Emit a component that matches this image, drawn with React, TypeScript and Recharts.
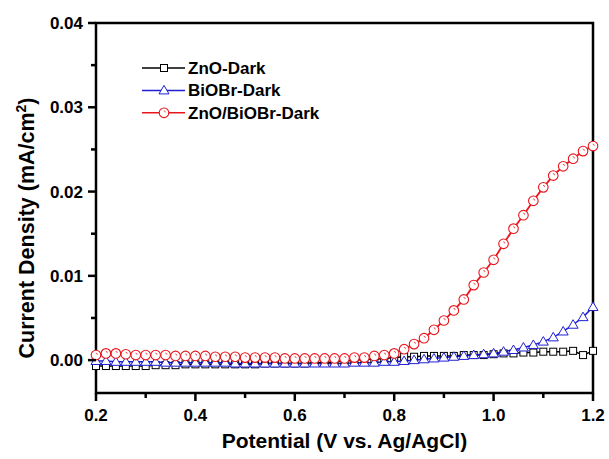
import React from "react";
import { LineChart, Line, XAxis, YAxis, Legend, Label, ReferenceArea } from "recharts";

// Potential (V vs. Ag/AgCl) of each sample point
const potential = [
  0.2, 0.22, 0.24, 0.26, 0.28, 0.3, 0.32, 0.34, 0.36, 0.38,
  0.4, 0.42, 0.44, 0.46, 0.48, 0.5, 0.52, 0.54, 0.56, 0.58,
  0.6, 0.62, 0.64, 0.66, 0.68, 0.7, 0.72, 0.74, 0.76, 0.78,
  0.8, 0.82, 0.84, 0.86, 0.88, 0.9, 0.92, 0.94, 0.96, 0.98,
  1.0, 1.02, 1.04, 1.06, 1.08, 1.1, 1.12, 1.14, 1.16, 1.18,
  1.2,
];

// Current density (mA/cm2) per series
const znoDark = [
  -0.0007, -0.0007, -0.0007, -0.0007, -0.0007, -0.0007, -0.0006, -0.0006, -0.0006, -0.0005,
  -0.0005, -0.0005, -0.0005, -0.0005, -0.0005, -0.0005, -0.0005, -0.0004, -0.0004, -0.0004,
  -0.0004, -0.0004, -0.0003, -0.0003, -0.0002, -0.0001, 0.0, 0.0001, 0.0001, 0.0002,
  0.0003, 0.0004, 0.0004, 0.0005, 0.0005, 0.0005, 0.0005, 0.0006, 0.0006, 0.0006,
  0.0007, 0.0008, 0.0008, 0.0009, 0.0009, 0.001, 0.001, 0.001, 0.0011, 0.0006,
  0.0011,
];

const biobrDark = [
  -0.0001, -0.0001, -0.0002, -0.0002, -0.0002, -0.0002, -0.0002, -0.0003, -0.0003, -0.0003,
  -0.0003, -0.0003, -0.0003, -0.0003, -0.0004, -0.0004, -0.0004, -0.0004, -0.0004, -0.0004,
  -0.0004, -0.0004, -0.0004, -0.0004, -0.0004, -0.0004, -0.0003, -0.0003, -0.0003, -0.0002,
  -0.0002, -0.0001, 0.0, 0.0001, 0.0002, 0.0003, 0.0004, 0.0005, 0.0006, 0.0007,
  0.0008, 0.001, 0.0012, 0.0015, 0.0018, 0.0022, 0.0027, 0.0034, 0.0042, 0.0051,
  0.0063,
];

const znoBiobrDark = [
  0.0006, 0.0008, 0.0008, 0.0007, 0.0006, 0.0006, 0.0006, 0.0006, 0.0005, 0.0005,
  0.0005, 0.0005, 0.0004, 0.0004, 0.0004, 0.0003, 0.0003, 0.0003, 0.0003, 0.0002,
  0.0002, 0.0002, 0.0002, 0.0002, 0.0002, 0.0002, 0.0003, 0.0003, 0.0005, 0.0006,
  0.0008, 0.0013, 0.0019, 0.0026, 0.0036, 0.0047, 0.0059, 0.0072, 0.0089, 0.0104,
  0.0119, 0.0138, 0.0156, 0.0172, 0.0189, 0.0205, 0.0219, 0.023, 0.0239, 0.0248,
  0.0254,
];

const xTicks = [0.2, 0.3, 0.4, 0.5, 0.6, 0.7, 0.8, 0.9, 1.0, 1.1, 1.2];
const yTicks = [0, 0.005, 0.01, 0.015, 0.02, 0.025, 0.03, 0.035, 0.04];

const seriesNames = ["ZnO-Dark", "BiOBr-Dark", "ZnO/BiOBr-Dark"];

const data = potential.map((v, i) => ({
  v,
  zno: znoDark[i],
  biobr: biobrDark[i],
  both: znoBiobrDark[i],
}));

const X_DOMAIN: [number, number] = [0.2, 1.2];
const Y_DOMAIN: [number, number] = [-0.0039, 0.04];

const FONT = '"Liberation Sans", Arial, sans-serif';
const BLACK = "#000000";
const BLUE = "#1f1fd6";
const RED = "#e8161c";
const AXIS_W = 2.5;

const squareMark = (cx: number, cy: number, key?: string) => (
  <rect key={key} x={cx - 3.5} y={cy - 3.5} width={7} height={7} fill="#fff" stroke={BLACK} strokeWidth={1} />
);

const triangleMark = (cx: number, cy: number, key?: string) => (
  <path
    key={key}
    d={`M${cx},${cy - 5} L${cx + 5},${cy + 3.5} L${cx - 5},${cy + 3.5} Z`}
    fill="#fff"
    stroke={BLUE}
    strokeWidth={1}
  />
);

const circleMark = (cx: number, cy: number, key?: string) => (
  <g key={key}>
    <circle cx={cx} cy={cy} r={4.8} fill="#fff" stroke={RED} strokeWidth={1.1} />
    <path d={`M${cx - 0.3},${cy - 2} a1.5,1.5 0 0 1 1.6,1.7`} fill="none" stroke={RED} strokeWidth={0.7} />
  </g>
);

const marks = [squareMark, triangleMark, circleMark];
const colors = [BLACK, BLUE, RED];

const makeDot = (fn: typeof squareMark) => (props: any) => {
  const { cx, cy, index } = props;
  if (cx == null || cy == null) return <g key={`e-${index}`} />;
  return fn(cx, cy, `d-${index}`);
};

// Y ticks: major with label, minor half-way ticks without
const YTick = (props: any) => {
  const { x, y, payload } = props;
  const axisX = x + 13;
  const major = Math.round(payload.value * 1000) % 10 === 0;
  return (
    <g>
      <path d={`M${axisX - (major ? 8 : 5)},${y}H${axisX}`} stroke={BLACK} strokeWidth={AXIS_W} fill="none" />
      {major && (
        <text x={axisX - 13} y={y} dy={6} textAnchor="end" fontFamily={FONT} fontWeight="bold" fontSize={17} fill={BLACK}>
          {payload.value.toFixed(2)}
        </text>
      )}
    </g>
  );
};

const XTick = (props: any) => {
  const { x, y, payload } = props;
  const axisY = y - 16;
  const major = Math.round(payload.value * 10) % 2 === 0;
  return (
    <g>
      <path d={`M${x},${axisY}V${axisY + (major ? 8 : 5)}`} stroke={BLACK} strokeWidth={AXIS_W} fill="none" />
      {major && (
        <text x={x} y={axisY + 28} textAnchor="middle" fontFamily={FONT} fontWeight="bold" fontSize={17} fill={BLACK}>
          {payload.value.toFixed(1)}
        </text>
      )}
    </g>
  );
};

const renderLegend = () => (
  <svg width={220} height={70}>
    {seriesNames.map((name, i) => {
      const cy = 12 + i * 22.4;
      return (
        <g key={name}>
          <line x1={2} x2={45} y1={cy} y2={cy} stroke={colors[i]} strokeWidth={1.5} />
          {marks[i](24, cy)}
          <text x={48} y={cy} dy={6} fontFamily={FONT} fontWeight="bold" fontSize={17} fill={BLACK}>
            {name}
          </text>
        </g>
      );
    })}
  </svg>
);

export default function App() {
  return (
    <div style={{ position: "absolute", left: 0, top: 0, width: 609, height: 459, background: "#fff" }}>
      <LineChart width={609} height={459} data={data} margin={{ top: 23, right: 16, bottom: 0, left: 0 }}>
        <XAxis
          dataKey="v"
          type="number"
          domain={X_DOMAIN}
          ticks={xTicks}
          interval={0}
          tickSize={8}
          tickMargin={8}
          tickLine={false}
          tick={<XTick />}
          axisLine={false}
          height={66}
        >
          <Label
            content={() => (
              <text x={344.5} y={448} textAnchor="middle" fontFamily={FONT} fontWeight="bold" fontSize={21} fill={BLACK}>
                Potential (V vs. Ag/AgCl)
              </text>
            )}
          />
        </XAxis>
        <YAxis
          type="number"
          domain={Y_DOMAIN}
          ticks={yTicks}
          interval={0}
          allowDataOverflow
          tickSize={8}
          tickMargin={5}
          tickLine={false}
          tick={<YTick />}
          axisLine={false}
          width={96}
        >
          <Label
            content={() => (
              <text transform="translate(34,228) rotate(-90)" textAnchor="middle" fontFamily={FONT} fontWeight="bold" fontSize={21.5} fill={BLACK}>
                Current Density (mA/cm
                <tspan dy={-8} fontSize={14}>2</tspan>
                <tspan dy={8}>)</tspan>
              </text>
            )}
          />
        </YAxis>
        {/* plot frame */}
        <ReferenceArea
          x1={X_DOMAIN[0]}
          x2={X_DOMAIN[1]}
          y1={Y_DOMAIN[0]}
          y2={Y_DOMAIN[1]}
          fill="none"
          fillOpacity={0}
          stroke={BLACK}
          strokeWidth={AXIS_W}
          strokeOpacity={1}
          ifOverflow="visible"
        />
        <Legend
          layout="vertical"
          align="center"
          verticalAlign="middle"
          content={renderLegend}
          wrapperStyle={{ left: 140, top: 56, width: 220, height: 70 }}
        />
        <Line type="linear" dataKey="zno" name={seriesNames[0]} stroke={BLACK} strokeWidth={1.5} dot={makeDot(squareMark)} activeDot={false} isAnimationActive={false} />
        <Line type="linear" dataKey="biobr" name={seriesNames[1]} stroke={BLUE} strokeWidth={1.5} dot={makeDot(triangleMark)} activeDot={false} isAnimationActive={false} />
        <Line type="linear" dataKey="both" name={seriesNames[2]} stroke={RED} strokeWidth={1.8} dot={makeDot(circleMark)} activeDot={false} isAnimationActive={false} />
      </LineChart>
    </div>
  );
}
